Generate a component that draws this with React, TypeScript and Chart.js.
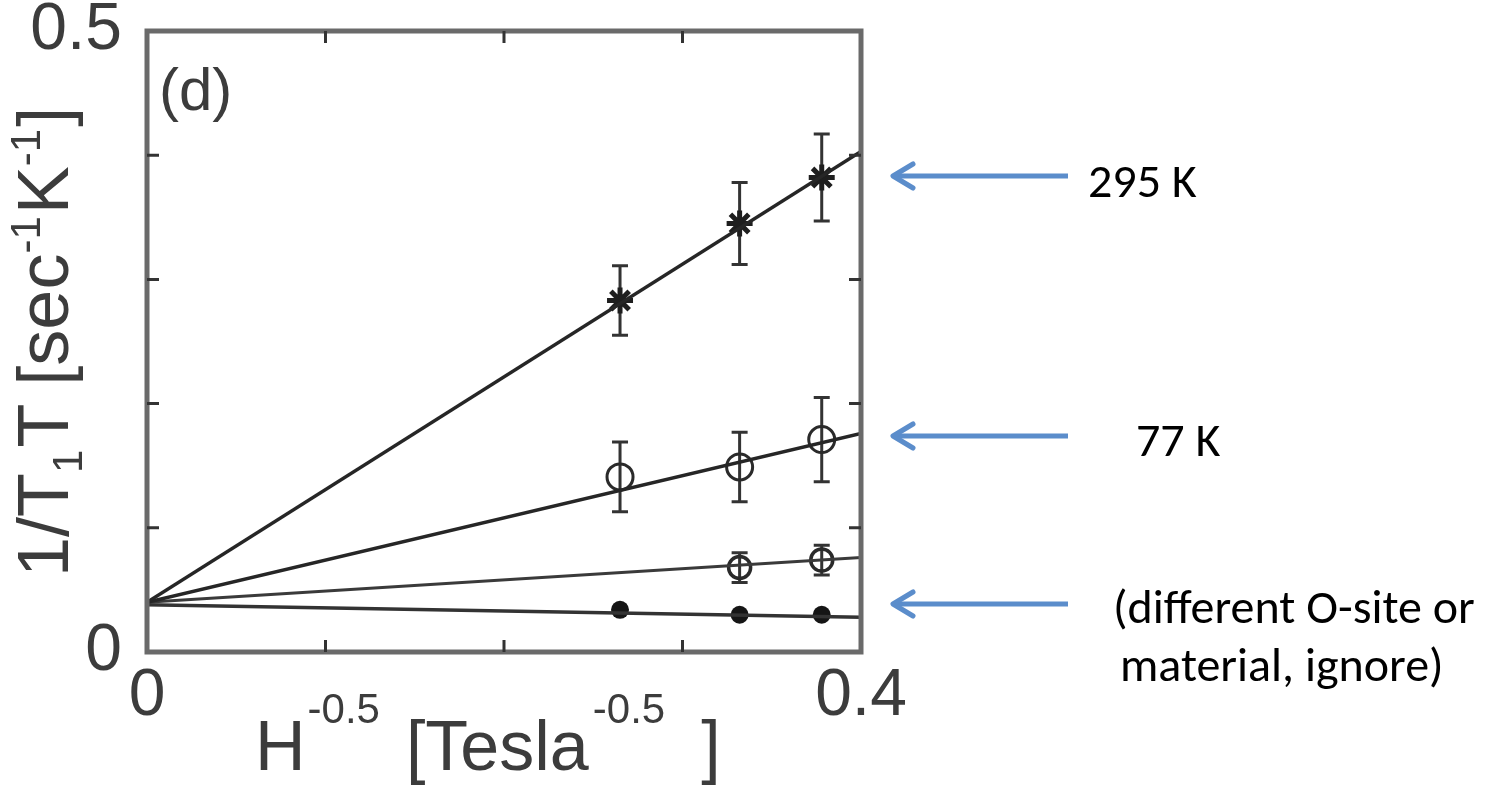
import React, { useEffect, useRef } from "react";
import { Chart, registerables } from "chart.js";

Chart.register(...registerables);

// ---- data ----
const fieldX = [0.265, 0.332, 0.378];
const t295Values = [0.283, 0.345, 0.382];
const t295Errors = [0.028, 0.033, 0.035];
const t77Values = [0.141, 0.149, 0.171];
const t77Errors = [0.028, 0.028, 0.034];
const siteBX = [0.332, 0.378];
const siteBValues = [0.068, 0.074];
const siteBErrors = [0.012, 0.012];
const siteCValues = [0.034, 0.03, 0.03];

const fitX = [0, 0.4];
const fit295 = [0.04, 0.403];
const fit77 = [0.04, 0.176];
const fitB = [0.04, 0.076];
const fitC = [0.038, 0.028];

const xTickLabels = [0, 0.4];
const yTickLabels = [0, 0.5];
const xMinorTicks = [0.1, 0.2, 0.3];
const yMinorTicks = [0.1, 0.2, 0.3, 0.4];

const panelLabel = "(d)";
const annotationLabels = [["295 K"], ["77 K"], ["(different O-site or", "material, ignore)"]];
const annotationValues = [0.383, 0.174, 0.039];

const FONT = "'Liberation Sans', Arial, Helvetica, sans-serif";
const NOTE_FONT = "Carlito, Lato, 'Open Sans', sans-serif";
const INK = "#3c3c3c";

type Run = { t: string; size: number; dy?: number; gap?: number };

function drawRuns(ctx: CanvasRenderingContext2D, runs: Run[], x: number, y: number) {
  let cx = x;
  for (const r of runs) {
    cx += r.gap || 0;
    ctx.font = `${r.size}px ${FONT}`;
    ctx.fillText(r.t, cx, y + (r.dy || 0));
    cx += ctx.measureText(r.t).width;
  }
}

const pts = (xs: number[], ys: number[]) => xs.map((x, i) => ({ x, y: ys[i] }));

const decorPlugin = {
  id: "decor",
  beforeDatasetsDraw(chart: any) {
    const ctx: CanvasRenderingContext2D = chart.ctx;
    const xs = chart.scales.x;
    const ys = chart.scales.y;
    ctx.save();
    chart.data.datasets.forEach((ds: any) => {
      if (!ds.errors) return;
      ctx.strokeStyle = "#333";
      ctx.lineWidth = 3;
      ds.data.forEach((p: any, i: number) => {
        const px = xs.getPixelForValue(p.x);
        const top = ys.getPixelForValue(p.y + ds.errors[i]);
        const bot = ys.getPixelForValue(p.y - ds.errors[i]);
        ctx.beginPath();
        ctx.moveTo(px, top);
        ctx.lineTo(px, bot);
        ctx.moveTo(px - 8, top);
        ctx.lineTo(px + 8, top);
        ctx.moveTo(px - 8, bot);
        ctx.lineTo(px + 8, bot);
        ctx.stroke();
      });
    });
    ctx.restore();
  },
  afterDraw(chart: any) {
    const ctx: CanvasRenderingContext2D = chart.ctx;
    const a = chart.chartArea;
    const xs = chart.scales.x;
    const ys = chart.scales.y;
    ctx.save();
    // frame
    ctx.strokeStyle = "#6a6a6a";
    ctx.lineWidth = 5;
    ctx.strokeRect(a.left, a.top, a.right - a.left, a.bottom - a.top);
    // inward ticks
    ctx.strokeStyle = "#333";
    ctx.lineWidth = 3;
    ctx.beginPath();
    xMinorTicks.forEach((v) => {
      const px = xs.getPixelForValue(v);
      ctx.moveTo(px, a.bottom);
      ctx.lineTo(px, a.bottom - 12);
      ctx.moveTo(px, a.top);
      ctx.lineTo(px, a.top + 12);
    });
    yMinorTicks.forEach((v) => {
      const py = ys.getPixelForValue(v);
      ctx.moveTo(a.left, py);
      ctx.lineTo(a.left + 12, py);
      ctx.moveTo(a.right, py);
      ctx.lineTo(a.right - 12, py);
    });
    ctx.stroke();

    // panel label
    ctx.fillStyle = INK;
    ctx.textBaseline = "middle";
    ctx.textAlign = "left";
    ctx.font = `60px ${FONT}`;
    ctx.fillText(panelLabel, a.left + 12, a.top + 62);

    // x title
    ctx.textBaseline = "alphabetic";
    drawRuns(
      ctx,
      [
        { t: "H", size: 70 },
        { t: "-0.5", size: 42, dy: -47, gap: 2 },
        { t: "[Tesla", size: 70, gap: 26 },
        { t: "-0.5", size: 42, dy: -47, gap: 4 },
        { t: "]", size: 70, gap: 36 },
      ],
      255,
      770
    );

    // y title (rotated)
    ctx.save();
    ctx.translate(68, 577);
    ctx.rotate(-Math.PI / 2);
    drawRuns(
      ctx,
      [
        { t: "1/T", size: 72 },
        { t: "1", size: 42, dy: 14 },
        { t: "T", size: 72, gap: 2 },
        { t: "[sec", size: 72, gap: 18 },
        { t: "-1", size: 42, dy: -28 },
        { t: "K", size: 72, gap: 2 },
        { t: "-1", size: 42, dy: -28 },
        { t: "]", size: 72, gap: 2 },
      ],
      0,
      0
    );
    ctx.restore();

    // annotations
    const arrowLeft = 893;
    const arrowRight = 1068;
    const textLeft = [[1088], [1136], [1113, 1120]];
    const textDy = [[9], [8], [7, 65]];
    annotationValues.forEach((v, k) => {
      const py = Math.round(ys.getPixelForValue(v));
      ctx.strokeStyle = "#5b8dcb";
      ctx.lineWidth = 5;
      ctx.lineCap = "butt";
      ctx.beginPath();
      ctx.moveTo(arrowLeft + 2, py);
      ctx.lineTo(arrowRight, py);
      ctx.stroke();
      ctx.lineCap = "round";
      ctx.lineJoin = "round";
      ctx.beginPath();
      ctx.moveTo(arrowLeft + 20, py - 12);
      ctx.lineTo(arrowLeft, py);
      ctx.lineTo(arrowLeft + 20, py + 12);
      ctx.stroke();
      ctx.fillStyle = "#000";
      ctx.textBaseline = "middle";
      ctx.font = `48px ${NOTE_FONT}`;
      annotationLabels[k].forEach((line, j) => {
        ctx.fillText(line, textLeft[k][j], py + textDy[k][j]);
      });
    });
    ctx.restore();
  },
};

export default function App() {
  const ref = useRef<HTMLCanvasElement>(null);
  useEffect(() => {
    const canvas = ref.current!;
    const lineStyle = {
      showLine: true,
      borderColor: "#262626",
      borderWidth: 3.5,
      pointRadius: 0,
      fill: false,
    };
    const chart = new Chart(canvas, {
      type: "scatter",
      data: {
        datasets: [
          { label: "fit 295 K", data: pts(fitX, fit295), ...lineStyle },
          { label: "fit 77 K", data: pts(fitX, fit77), ...lineStyle },
          { label: "fit B", data: pts(fitX, fitB), ...lineStyle, borderColor: "#3a3a3a", borderWidth: 3 },
          { label: "fit C", data: pts(fitX, fitC), ...lineStyle, borderColor: "#333", borderWidth: 3.5 },
          {
            label: "295 K",
            data: pts(fieldX, t295Values),
            errors: t295Errors,
            pointStyle: "star",
            pointRadius: 13,
            borderWidth: 5,
            borderColor: "#1e1e1e",
            backgroundColor: "#1e1e1e",
          } as any,
          {
            label: "77 K",
            data: pts(fieldX, t77Values),
            errors: t77Errors,
            pointStyle: "circle",
            pointRadius: 13,
            borderWidth: 3,
            borderColor: "#2a2a2a",
            backgroundColor: "rgba(255,255,255,0)",
          } as any,
          {
            label: "site B",
            data: pts(siteBX, siteBValues),
            errors: siteBErrors,
            pointStyle: "circle",
            pointRadius: 11,
            borderWidth: 3.5,
            borderColor: "#2a2a2a",
            backgroundColor: "rgba(255,255,255,0)",
          } as any,
          {
            label: "site C",
            data: pts(fieldX, siteCValues),
            pointStyle: "circle",
            pointRadius: 9,
            borderWidth: 0,
            backgroundColor: "#151515",
          },
        ],
      },
      options: {
        responsive: false,
        animation: false,
        devicePixelRatio: 1,
        layout: { padding: { left: 0, right: 643, top: 31, bottom: 0 }, autoPadding: false },
        plugins: { legend: { display: false }, tooltip: { enabled: false } },
        scales: {
          x: {
            type: "linear",
            min: 0,
            max: 0.4,
            afterBuildTicks: (s: any) => {
              s.ticks = xTickLabels.map((v) => ({ value: v }));
            },
            afterFit: (s: any) => {
              s.height = 136;
              s.paddingLeft = 0;
              s.paddingRight = 0;
            },
            grid: { display: false, drawTicks: false },
            border: { display: false },
            ticks: {
              autoSkip: false,
              maxRotation: 0,
              padding: 5,
              color: INK,
              font: { family: FONT, size: 66 },
              callback: (v: any) => String(v),
            },
          },
          y: {
            type: "linear",
            min: 0,
            max: 0.5,
            afterBuildTicks: (s: any) => {
              s.ticks = yTickLabels.map((v) => ({ value: v }));
            },
            afterFit: (s: any) => {
              s.width = 147;
              s.paddingTop = 0;
              s.paddingBottom = 0;
            },
            grid: { display: false, drawTicks: false },
            border: { display: false },
            ticks: {
              autoSkip: false,
              padding: 25,
              color: INK,
              font: { family: FONT, size: 66 },
              callback: (v: any) => String(v),
            },
          },
        },
      },
      plugins: [decorPlugin],
    } as any);
    return () => chart.destroy();
  }, []);
  return (
    <div style={{ position: "fixed", left: 0, top: 0, width: 1504, height: 788, background: "#fff" }}>
      <canvas ref={ref} width={1504} height={788} style={{ display: "block", width: 1504, height: 788 }} />
    </div>
  );
}
